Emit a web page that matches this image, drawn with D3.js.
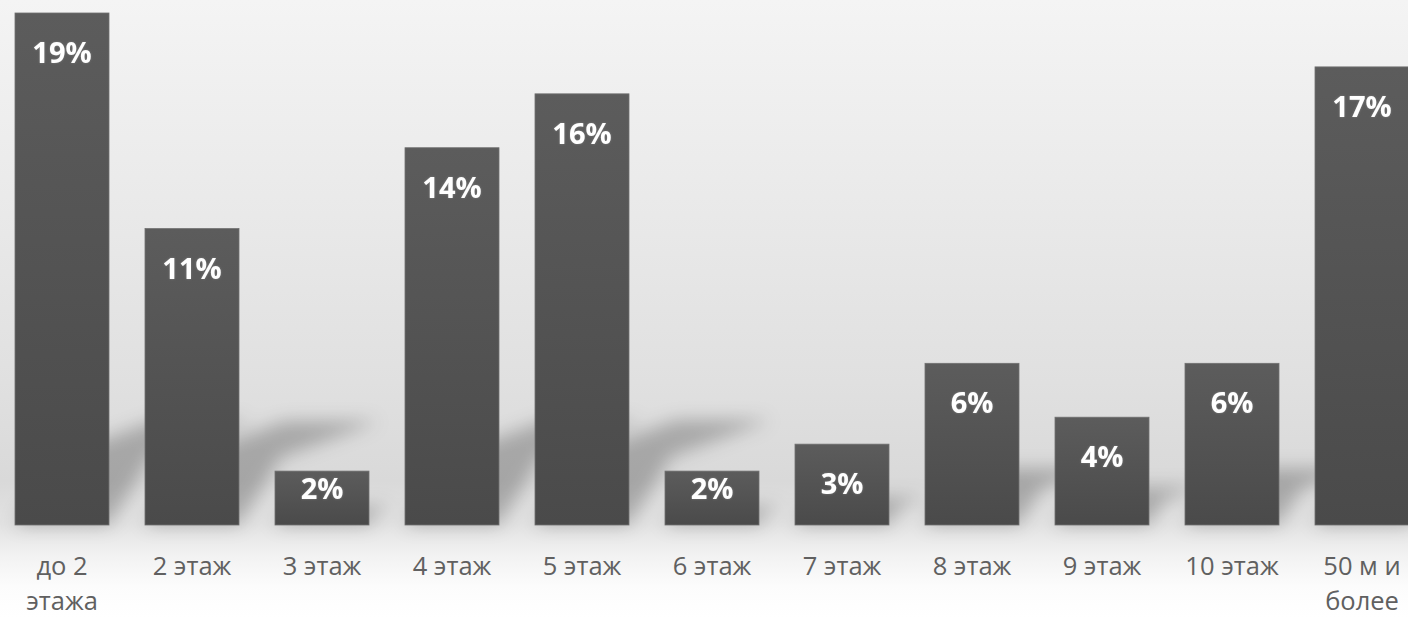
<!DOCTYPE html>
<html>
<head>
<meta charset="utf-8">
<script src="https://cdn.jsdelivr.net/npm/d3@7/dist/d3.min.js"></script>
<style>
  html, body { margin: 0; padding: 0; background: #fff; overflow: hidden; }
  svg { display: block; }
</style>
</head>
<body>
<svg id="chart" width="1408" height="617"></svg>
<script>
// Distribution by floor / height
const categories = ["до 2 этажа", "2 этаж", "3 этаж", "4 этаж", "5 этаж", "6 этаж",
                    "7 этаж", "8 этаж", "9 этаж", "10 этаж", "50 м и более"];
const values = [19, 11, 2, 14, 16, 2, 3, 6, 4, 6, 17];
const valueLabels = values.map(v => v + "%");

const W = 1408, H = 617;
const baseline = 525;
const svg = d3.select("#chart");
const defs = svg.append("defs");

// backdrop: soft grey wall fading into a white floor
const bg = defs.append("linearGradient").attr("id", "bg")
  .attr("x1", 0).attr("y1", 0).attr("x2", 0).attr("y2", 1);
[[0, "#f4f4f4"], [0.35, "#e9e9e9"], [0.62, "#e0e0e0"], [0.78, "#d9d9d9"],
 [0.85, "#e2e2e2"], [0.9, "#f2f2f2"], [0.95, "#fcfcfc"], [1, "#ffffff"]]
  .forEach(([o, c]) => bg.append("stop").attr("offset", o).attr("stop-color", c));

const barGrad = defs.append("linearGradient").attr("id", "barGrad")
  .attr("x1", 0).attr("y1", 0).attr("x2", 0).attr("y2", 1);
barGrad.append("stop").attr("offset", 0).attr("stop-color", "#5c5c5c");
barGrad.append("stop").attr("offset", 1).attr("stop-color", "#4a4a4a");

defs.append("filter").attr("id", "blur").attr("x", "-50%").attr("y", "-50%")
  .attr("width", "200%").attr("height", "200%")
  .append("feGaussianBlur").attr("stdDeviation", 9);

const glow = defs.append("filter").attr("id", "glow").attr("x", "-20%").attr("y", "-20%")
  .attr("width", "140%").attr("height", "140%");
glow.append("feGaussianBlur").attr("in", "SourceAlpha").attr("stdDeviation", 1.2).attr("result", "b");
glow.append("feFlood").attr("flood-color", "#888").attr("flood-opacity", 0.8);
glow.append("feComposite").attr("in2", "b").attr("operator", "in").attr("result", "g");
const gm = glow.append("feMerge");
gm.append("feMergeNode").attr("in", "g");
gm.append("feMergeNode").attr("in", "SourceGraphic");

svg.append("rect").attr("width", W).attr("height", H).attr("fill", "url(#bg)");

const x = d3.scaleBand()
  .domain(categories)
  .range([-3, 1427])
  .paddingInner(36 / 130)
  .paddingOuter(18 / 130);

const y = d3.scaleLinear().domain([0, 19]).range([baseline, 13]);

const data = categories.map((c, i) => ({ cat: c, value: values[i], label: valueLabels[i] }));

// cast shadows falling back and to the right of each bar
svg.append("g").attr("filter", "url(#blur)")
  .selectAll("path").data(data).join("path")
  .attr("fill", "#000")
  .attr("fill-opacity", 0.24)
  .attr("d", d => {
    const x0 = x(d.cat), x1 = x0 + x.bandwidth();
    const h = baseline - y(d.value);
    const L = Math.min(h * 0.35, 105);
    const pts = [
      [x0, baseline], [x1, baseline],
      [x1 + 0.4 * L, baseline - 0.65 * L],
      [x1 + 1.35 * L, baseline - L],
      [x0 + 1.35 * L, baseline - L],
      [x0 + 0.4 * L, baseline - 0.65 * L]
    ];
    return d3.line()(pts) + "Z";
  });

// bars
svg.append("g").selectAll("rect").data(data).join("rect")
  .attr("x", d => x(d.cat))
  .attr("y", d => y(d.value))
  .attr("width", x.bandwidth())
  .attr("height", d => baseline - y(d.value))
  .attr("fill", "url(#barGrad)")
  .attr("stroke", "#707070")
  .attr("stroke-width", 0.8);

// value labels inside the bars
svg.append("g").selectAll("text").data(data).join("text")
  .attr("x", d => x(d.cat) + x.bandwidth() / 2)
  .attr("y", d => Math.min(y(d.value) + 50, baseline - 26))
  .attr("text-anchor", "middle")
  .attr("font-family", "'Open Sans', sans-serif")
  .attr("font-weight", 700)
  .attr("font-size", 29)
  .attr("fill", "#ffffff")
  .attr("filter", "url(#glow)")
  .text(d => d.label);

// category labels, wrapped to the bar pitch
const axisG = svg.append("g");
const maxW = 110;
data.forEach(d => {
  const t = axisG.append("text")
    .attr("text-anchor", "middle")
    .attr("font-family", "'Open Sans', sans-serif")
    .attr("font-size", 25.5)
    .attr("fill", "#606060");
  const cx = x(d.cat) + x.bandwidth() / 2;
  const words = d.cat.split(" ");
  const lines = [];
  let cur = [];
  const probe = t.append("tspan");
  words.forEach(w => {
    const test = cur.concat([w]).join(" ");
    probe.text(test);
    if (cur.length && probe.node().getComputedTextLength() > maxW) {
      lines.push(cur.join(" "));
      cur = [w];
    } else {
      cur.push(w);
    }
  });
  lines.push(cur.join(" "));
  probe.remove();
  lines.forEach((ln, i) => {
    t.append("tspan").attr("x", cx).attr("y", 575 + i * 35).text(ln);
  });
});
</script>
</body>
</html>
